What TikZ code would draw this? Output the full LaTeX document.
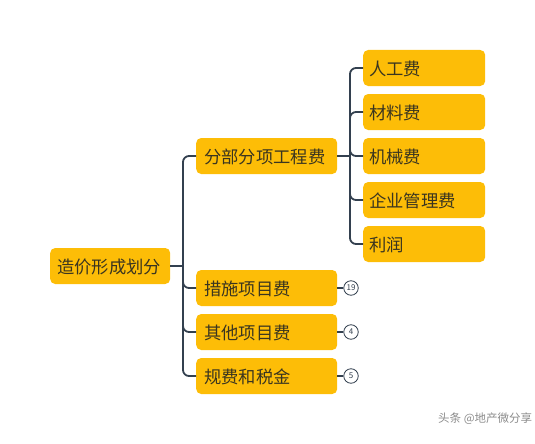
\documentclass[tikz,border=0pt]{standalone}
\usepackage{fontspec}
\setmainfont{Noto Sans CJK SC}
\newfontfamily\cjk{Noto Sans CJK SC}
\definecolor{boxy}{HTML}{FDBD07}
\definecolor{linec}{HTML}{33404F}
\definecolor{txt}{HTML}{3A3520}
\tikzset{
  topic/.style={fill=boxy, rounded corners=5pt, minimum height=36pt, text=txt,
    font=\cjk\fontsize{17.3}{19}\selectfont, anchor=west, inner sep=0pt, text depth=0pt, align=left},
  conn/.style={draw=linec, line width=1.8pt, rounded corners=6pt},
  badge/.style={circle, draw=linec, line width=0.8pt, fill=white, minimum size=14.5pt, inner sep=0pt,
    font=\fontsize{8}{9}\selectfont, text=linec}
}
\begin{document}
\begin{tikzpicture}[x=1pt,y=-1pt]
\useasboundingbox (0,0) rectangle (535,444);
% root
\node[topic, minimum width=120pt, text width=106pt] (root) at (50,266) {造价形成划分};
% level 1
\node[topic, minimum width=141pt, text width=125pt] (a) at (196,156) {分部分项工程费};
\node[topic, minimum width=141pt, text width=125pt] (b) at (196,288) {措施项目费};
\node[topic, minimum width=141pt, text width=125pt] (c) at (196,332) {其他项目费};
\node[topic, minimum width=141pt, text width=125pt] (d) at (196,376) {规费和税金};
% level 2
\node[topic, minimum width=122pt, text width=110pt] (a1) at (363,68) {人工费};
\node[topic, minimum width=122pt, text width=110pt] (a2) at (363,112) {材料费};
\node[topic, minimum width=122pt, text width=110pt] (a3) at (363,156) {机械费};
\node[topic, minimum width=122pt, text width=110pt] (a4) at (363,200) {企业管理费};
\node[topic, minimum width=122pt, text width=110pt] (a5) at (363,244) {利润};
% connectors root
\coordinate (j0) at (183,266);
\draw[conn] (root.east) -- (j0);
\foreach \n in {a,b,c,d} \draw[conn] (j0) |- (\n.west);
% connectors level 2
\coordinate (j1) at (350,156);
\draw[conn] (a.east) -- (j1);
\foreach \n in {a1,a2,a3,a4,a5} \draw[conn] (j1) |- (\n.west);
% badges
\node[badge] (bb) at (351,288) {19};
\node[badge] (bc) at (351,332) {4};
\node[badge] (bd) at (351,376) {5};
\draw[draw=linec, line width=1.2pt] (b.east) -- (bb.west);
\draw[draw=linec, line width=1.2pt] (c.east) -- (bc.west);
\draw[draw=linec, line width=1.2pt] (d.east) -- (bd.west);
% watermark
\node[anchor=west, text=black!45, font=\cjk\fontsize{11.5}{13}\selectfont, inner sep=0pt] (wm) at (438,419) {头条 @地产微分享};
\end{tikzpicture}
\end{document}
